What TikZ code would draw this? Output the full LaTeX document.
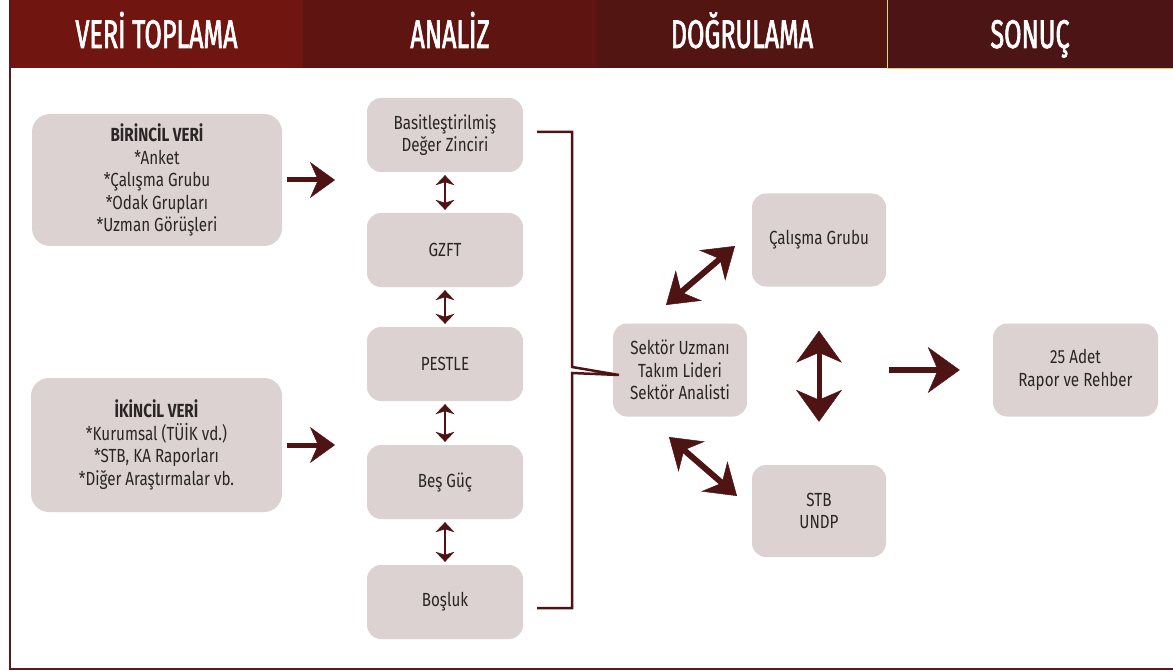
\documentclass[tikz,border=0pt]{standalone}
\usepackage{fontspec}
\setmainfont{Fira Sans}[FakeStretch=0.80]
\newfontfamily\headfont{Fira Sans}[FakeStretch=0.63, FakeBold=1.6]
\usetikzlibrary{arrows.meta}
\definecolor{hdA}{HTML}{711510}
\definecolor{hdB}{HTML}{5E1511}
\definecolor{hdC}{HTML}{521512}
\definecolor{hdD}{HTML}{4C1414}
\definecolor{boxfill}{HTML}{DDD2D2}
\definecolor{arrcol}{HTML}{4E1414}
\definecolor{txtcol}{HTML}{2A2626}
\definecolor{framecol}{HTML}{5A1A1C}
\definecolor{limecol}{HTML}{D6DC7C}
\begin{document}
\begin{tikzpicture}[x=1pt,y=-1pt,
  box/.style={fill=boxfill, rounded corners=14pt, align=center, text=txtcol, inner sep=0pt,
    font=\fontsize{19}{22.5}\selectfont},
  hdr/.style={text=white, inner sep=0pt, minimum height=68pt, text height=28pt, text depth=0pt,
    font=\headfont\fontsize{40}{44}\selectfont},
  bigarr/.style={draw=arrcol, line width=5pt,
    -{Stealth[length=25pt,width=36pt,inset=8pt,line width=0.5pt]}},
  rarr/.style={draw=arrcol, line width=5.5pt,
    -{Stealth[length=32pt,width=46pt,inset=10pt,line width=0.5pt]}},
  dblarr/.style={draw=arrcol, line width=6pt,
    {Stealth[length=30pt,width=40pt,inset=10pt,line width=0.5pt]}-{Stealth[length=30pt,width=40pt,inset=10pt,line width=0.5pt]}},
  vdblarr/.style={draw=arrcol, line width=5pt,
    {Stealth[length=32pt,width=46pt,inset=10pt,line width=0.5pt]}-{Stealth[length=32pt,width=46pt,inset=10pt,line width=0.5pt]}},
  smallarr/.style={draw=arrcol, line width=2.6pt, shorten <=3pt, shorten >=3pt,
    {Stealth[length=10pt,width=19pt,inset=3pt,line width=0.3pt]}-{Stealth[length=10pt,width=19pt,inset=3pt,line width=0.3pt]}},
  brk/.style={draw=arrcol, line width=2.5pt, line join=miter}
]
\useasboundingbox (0,0) rectangle (1173,671);

% header
\node[hdr, fill=hdA, minimum width=293pt] (h1) at (156.5,34) {VERİ TOPLAMA};
\node[hdr, fill=hdB, minimum width=294pt] (h2) at (450,34) {ANALİZ};
\node[hdr, fill=hdC, minimum width=290pt] (h3) at (742,34) {DOĞRULAMA};
\node[hdr, fill=hdD, minimum width=286pt] (h4) at (1030,34) {SONUÇ};
\draw[limecol, line width=0.8pt] (887.5,0) -- (887.5,68) -- (1173,68);

% frame
\draw[framecol, line width=2.2pt] (10,0) -- (10,669) -- (1173,669);

% data boxes
\node[box, minimum width=250pt, minimum height=132pt, rounded corners=18pt] (b1) at (157,180)
  {\textbf{BİRİNCİL VERİ}\\*Anket\\*Çalışma Grubu\\*Odak Grupları\\*Uzman Görüşleri};
\node[box, minimum width=251pt, minimum height=134pt, rounded corners=18pt] (b2) at (156.5,445)
  {\textbf{İKİNCİL VERİ}\\*Kurumsal (TÜİK vd.)\\*STB, KA Raporları\\*Diğer Araştırmalar vb.};

% analysis boxes
\node[box, minimum width=156pt, minimum height=74pt] (a1) at (445,135) {Basitleştirilmiş\\Değer Zinciri};
\node[box, minimum width=156pt, minimum height=74pt] (a2) at (445,250) {GZFT};
\node[box, minimum width=156pt, minimum height=74pt] (a3) at (445,364) {PESTLE};
\node[box, minimum width=156pt, minimum height=74pt] (a4) at (445,482) {Beş Güç};
\node[box, minimum width=156pt, minimum height=74pt] (a5) at (445,602) {Boşluk};

% validation boxes
\node[box, minimum width=134pt, minimum height=93pt] (s) at (680,370) {Sektör Uzmanı\\Takım Lideri\\Sektör Analisti};
\node[box, minimum width=134pt, minimum height=93pt] (c) at (819,240) {Çalışma Grubu};
\node[box, minimum width=134pt, minimum height=92pt] (u) at (819,511) {STB\\UNDP};
\node[box, minimum width=165pt, minimum height=93pt] (r) at (1075.5,370) {25 Adet\\Rapor ve Rehber};

% free arrow ends
\coordinate (la1) at (335,180);
\coordinate (la2) at (335,445);
\coordinate (brT) at (537,132);
\coordinate (brB) at (537,608);
\coordinate (brTip) at (619,375);
\coordinate (d1a) at (666,305);
\coordinate (d1b) at (735,246);
\coordinate (d2a) at (669,437);
\coordinate (d2b) at (737,496);
\coordinate (ra) at (889,370);

% arrows
\draw[bigarr, shorten <=5pt] (b1.east) -- (la1);
\draw[bigarr, shorten <=5pt] (b2.east) -- (la2);
\draw[smallarr] (a1.south) -- (a2.north);
\draw[smallarr] (a2.south) -- (a3.north);
\draw[smallarr] (a3.south) -- (a4.north);
\draw[smallarr] (a4.south) -- (a5.north);
\draw[brk] (brT) -| (572,367) -- (brTip) -- (572,373) |- (brB);
\draw[dblarr] (d1a) -- (d1b);
\draw[dblarr] (d2a) -- (d2b);
\draw[vdblarr, shorten <=44pt, shorten >=43pt] (c.south) -- (u.north);
\draw[rarr, shorten >=33pt] (ra) -- (r.west);
\end{tikzpicture}
\end{document}
